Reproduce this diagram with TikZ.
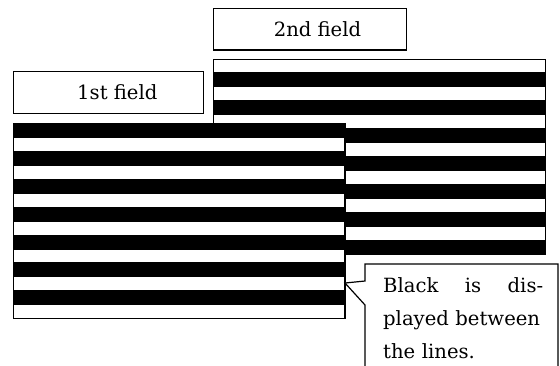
\documentclass[tikz,border=0pt]{standalone}
\usepackage{fontspec}
\setmainfont{DejaVu Serif}
\begin{document}
\begin{tikzpicture}[x=1pt,y=-1pt,
  frame/.style={draw=black,line width=1.2pt},
  fieldlabel/.style={draw=black,line width=1.2pt,fill=white,inner sep=0pt,
    font=\fontsize{19.6}{24}\selectfont},
  notetext/.style={inner sep=0pt,text width=160pt,align=left,
    font=\fontsize{19.6}{33}\selectfont}]
\useasboundingbox (0,0) rectangle (560,365);
% 2nd field
\fill[white] (213.3,59.3) rectangle (545.7,254);
\foreach \k in {0,...,6}
  \fill[black] (213.3,72+28*\k) rectangle (545.7,86.5+28*\k);
\draw[frame] (213.3,59.3) rectangle (545.7,254);
% 1st field
\fill[white] (13.3,123.3) rectangle (345,318.3);
\foreach \k in {0,...,6}
  \fill[black] (13.3,123.3+27.8*\k) rectangle (345,138.3+27.8*\k);
\draw[frame] (13.3,123.3) rectangle (345,318.3);
% labels
\node[fieldlabel,minimum width=190pt,minimum height=41.6pt] (f1) at (108.3,92.5) {\hspace*{18pt}1st field};
\node[fieldlabel,minimum width=193.4pt,minimum height=41.7pt] (f2) at (310,29.2) {\hspace*{15pt}2nd field};
% callout
\coordinate (tip) at (345,283);
\filldraw[frame,fill=white,line join=miter] (365,367) -- (365,305) -- (tip) -- (365,281) -- (365,264) -- (558,264) -- (558,367);
\node[notetext,anchor=north west] (note) at (383,277) {Black\hfill is\hfill dis-\\played between\\the lines.};
\end{tikzpicture}
\end{document}
